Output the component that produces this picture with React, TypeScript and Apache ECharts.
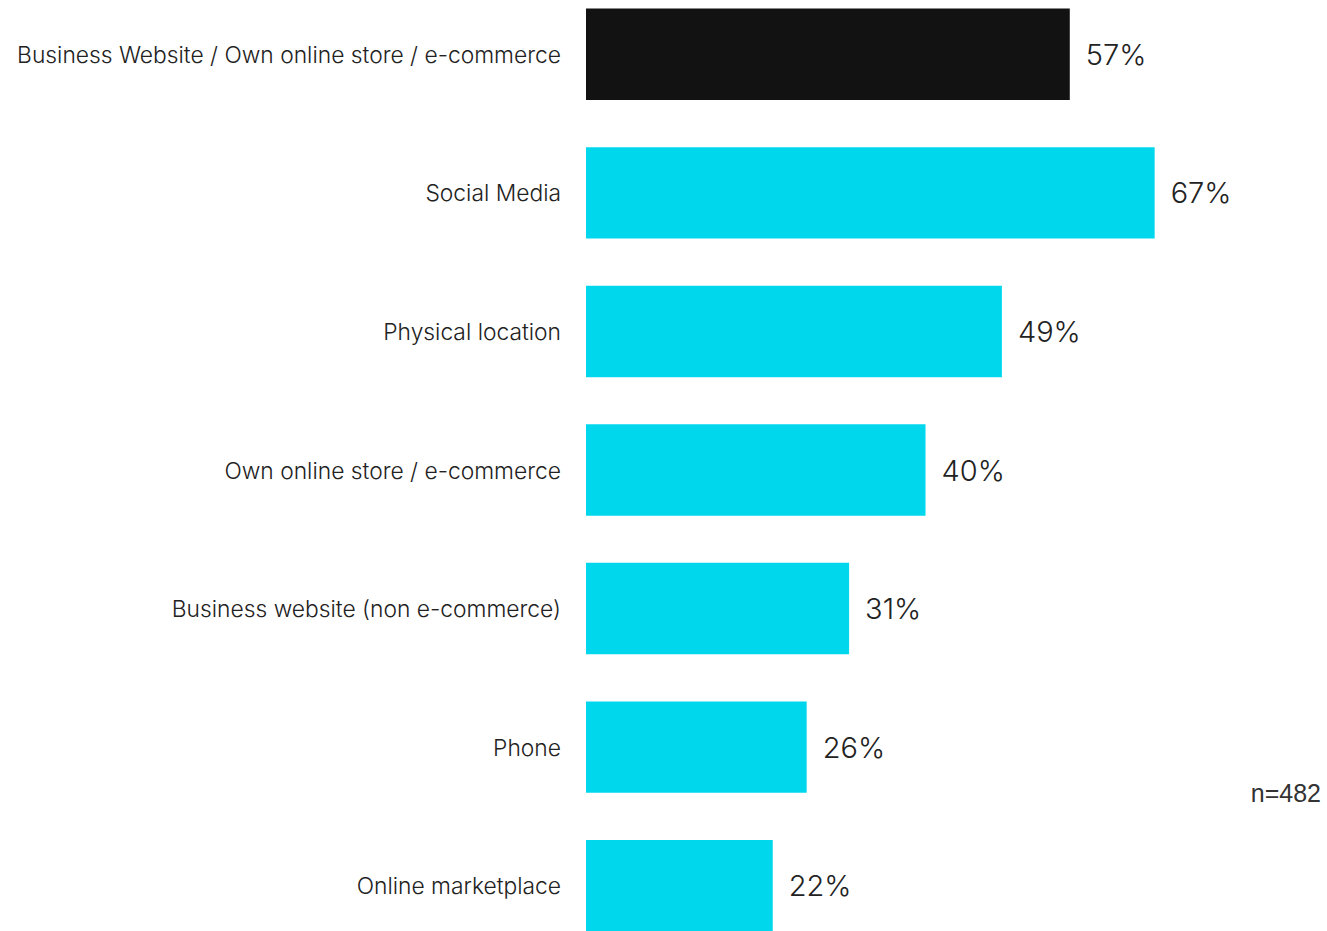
import React, { useEffect, useRef } from "react";
import * as echarts from "echarts";

const categories = [
  "Business Website / Own online store / e-commerce",
  "Social Media",
  "Physical location",
  "Own online store / e-commerce",
  "Business website (non e-commerce)",
  "Phone",
  "Online marketplace",
];
const values = [57, 67, 49, 40, 31, 26, 22];
const barColors = ["#121212", "#00D7ED", "#00D7ED", "#00D7ED", "#00D7ED", "#00D7ED", "#00D7ED"];
const sampleNote = "n=482";

export default function App() {
  const ref = useRef<HTMLDivElement>(null);
  useEffect(() => {
    if (!ref.current) return;
    const chart = echarts.init(ref.current, undefined, { renderer: "svg" });
    chart.setOption({
      animation: false,
      grid: { left: 586, width: 679, top: 0, bottom: 0, containLabel: false },
      xAxis: {
        type: "value",
        min: 0,
        max: 80,
        show: false,
      },
      yAxis: {
        type: "category",
        data: categories,
        inverse: true,
        axisLine: { show: false },
        axisTick: { show: false },
        splitLine: { show: false },
        axisLabel: {
          margin: 25,
          fontSize: 22.8,
          fontFamily: "Inter",
          fontWeight: 300,
          color: "#222222",
        },
      },
      series: [
        {
          type: "bar",
          barCategoryGap: "34%",
          data: values.map((v, i) => ({ value: v, itemStyle: { color: barColors[i] } })),
          label: {
            show: true,
            position: "right",
            distance: 16,
            formatter: "{c}%",
            fontSize: 29,
            fontFamily: "Inter",
            fontWeight: 300,
            color: "#222222",
          },
        },
      ],
      graphic: [
        {
          type: "text",
          right: 6,
          top: 795,
          style: {
            text: sampleNote,
            fontSize: 25,
            fontFamily: "Liberation Sans",
            fill: "#333333",
          },
        },
      ],
    });
    return () => chart.dispose();
  }, []);
  return (
    <div
      ref={ref}
      style={{ position: "fixed", left: 0, top: -15, width: 1327, height: 970, background: "#ffffff" }}
    />
  );
}
